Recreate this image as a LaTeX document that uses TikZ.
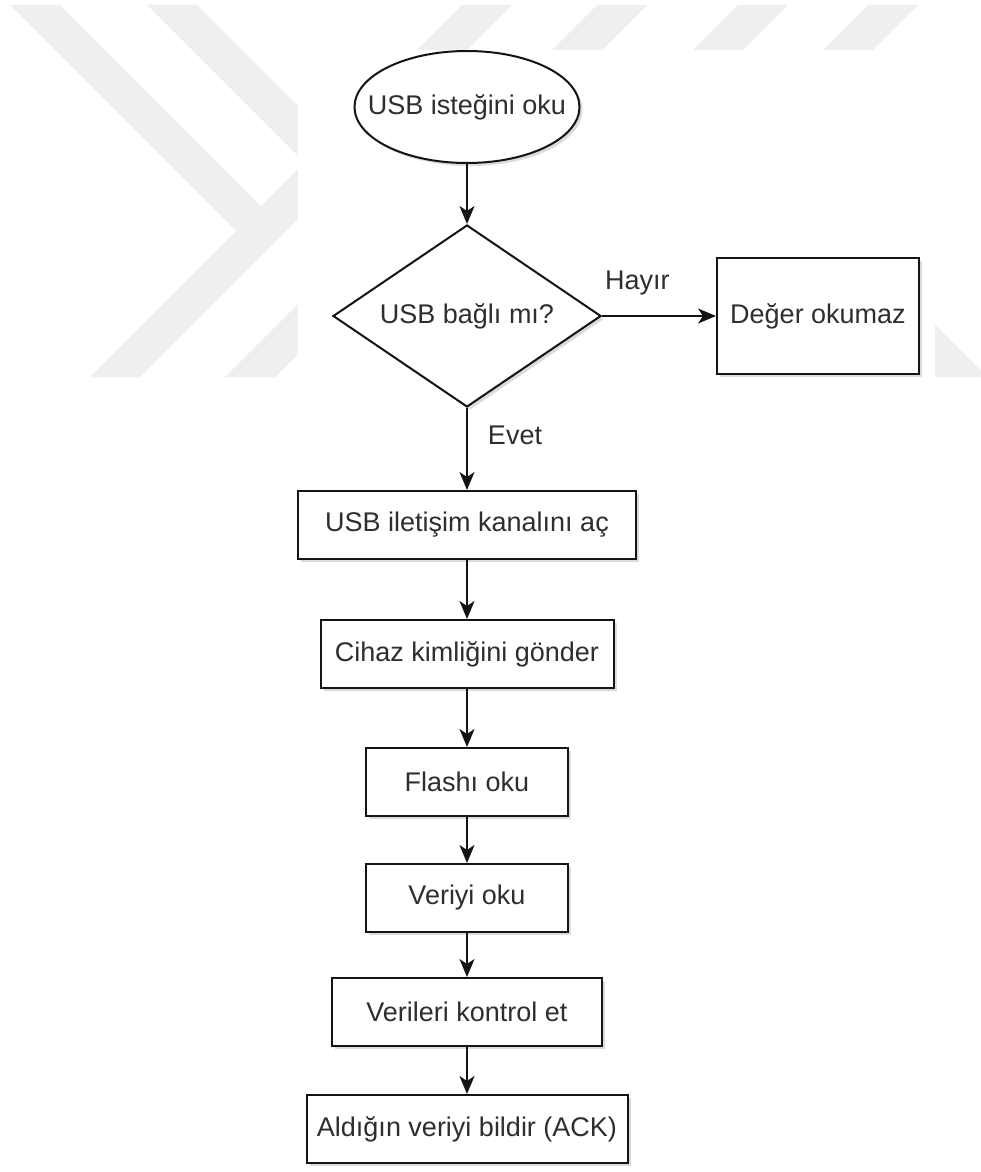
\documentclass[tikz,border=0pt]{standalone}
\usepackage{fontspec}
\setmainfont{Liberation Sans}
\usepackage{tikz}
\usetikzlibrary{positioning,shapes.geometric,arrows.meta,shadows}
\definecolor{ink}  {HTML}{141414}
\definecolor{txt}  {HTML}{2E2E2E}
\definecolor{wmark}{HTML}{EFEFEF}
\tikzset{
  >={Stealth[length=18pt,width=15pt,inset=5pt]},
  every node/.style={font=\fontsize{27}{32}\selectfont, text=txt},
  % --- nodes
  shdw/.style  = {drop shadow={shadow xshift=3pt, shadow yshift=-3pt, opacity=.2, fill=black!70}},
  box/.style   = {rectangle, draw=ink, line width=2pt, fill=white, shdw, align=center,
                  inner sep=2pt, minimum height=68pt},
  term/.style  = {ellipse, draw=ink, line width=2pt, fill=white, shdw, inner xsep=-22pt,
                  inner ysep=0pt, minimum width=225pt, minimum height=112pt},
  cond/.style  = {diamond, draw=ink, line width=2pt, fill=white, shdw, inner sep=0pt,
                  aspect=1.47, minimum width=268pt, minimum height=182pt},
  lbl/.style   = {inner sep=1pt},
  % --- edges
  e/.style     = {->, line width=2pt, draw=ink},
}

\begin{document}
\begin{tikzpicture}[x=1pt,y=-1pt]
  \useasboundingbox (0,0) rectangle (980,1172);
  \fill[white] (0,0) rectangle (980,1172);
  % watermark behind the chart
  \fill[wmark] (462,5) -- (512,5) -- (140,377) -- (90,377) -- cycle;
  \fill[wmark] (597,5) -- (647,5) -- (275,377) -- (225,377) -- cycle;
  \fill[wmark] (738,5) -- (788,5) -- (416,377) -- (366,377) -- cycle;
  \fill[wmark] (868,5) -- (918,5) -- (546,377) -- (496,377) -- cycle;
  \fill[wmark] (10,5) -- (60,5) -- (261,206) -- (236,231) -- cycle;
  \fill[wmark] (147,5) -- (197,5) -- (397,205) -- (372,230) -- cycle;
  \fill[wmark] (900,290) -- (987,377) -- (900,377) -- cycle;
  \fill[white] (298,50) rectangle (935,1172);

  \node[term] (start) at (467,107) {USB isteğini oku};
  \node[cond, below=60pt of start] (linked) {USB bağlı mı?};
  \node[box, minimum width=202pt, minimum height=116pt, right=114pt of linked] (noread) {Değer okumaz};
  \node[box, minimum width=338pt, below=82pt of linked] (opench) {USB iletişim kanalını aç};
  \node[box, minimum width=293pt, below=59pt of opench] (sendid) {Cihaz kimliğini gönder};
  \node[box, minimum width=202pt, below=58pt of sendid] (flash) {Flashı oku};
  \node[box, minimum width=202pt, below=46pt of flash] (readdata) {Veriyi oku};
  \node[box, minimum width=270pt, below=44pt of readdata] (check) {Verileri kontrol et};
  \node[box, minimum width=321pt, below=47pt of check] (ack) {Aldığın veriyi bildir (ACK)};

  \draw[e] (start) -- (linked);
  \draw[e] (linked) -- node[lbl, pos=.31, yshift=33pt] {Hayır} (noread);
  \draw[e] (linked) -- node[lbl, pos=.33, xshift=48pt] {Evet} (opench);
  \foreach \a/\b in {opench/sendid, sendid/flash, flash/readdata, readdata/check, check/ack}
    \draw[e] (\a) -- (\b);
\end{tikzpicture}
\end{document}
